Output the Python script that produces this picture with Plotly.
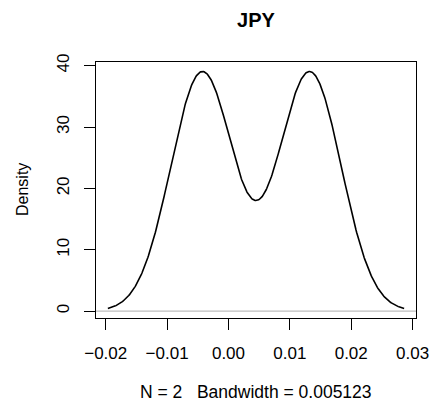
import numpy as np
import plotly.graph_objects as go

# Data: the two observations and the reported bandwidth
title = "JPY"
observations = [-0.00428, 0.01325]
bandwidth = 0.005123
x_ticks = [-0.02, -0.01, 0.00, 0.01, 0.02, 0.03]
x_tick_labels = ["−0.02", "−0.01", "0.00", "0.01", "0.02", "0.03"]
y_ticks = [0, 10, 20, 30, 40]
y_tick_labels = ["0", "10", "20", "30", "40"]

# Gaussian kernel density estimate (as R's density(), cut = 3, n = 512)
obs = np.array(observations)
grid = np.linspace(obs.min() - 3 * bandwidth, obs.max() + 3 * bandwidth, 512)
dens = np.zeros_like(grid)
for o in obs:
    dens += np.exp(-0.5 * ((grid - o) / bandwidth) ** 2) / (bandwidth * np.sqrt(2 * np.pi))
dens /= len(obs)

def r_range(v):
    lo, hi = float(np.min(v)), float(np.max(v))
    pad = 0.04 * (hi - lo)
    return [lo - pad, hi + pad]

xr = r_range(grid)
yr = r_range(dens)

FONT = "Liberation Sans, Arial, Helvetica, sans-serif"

fig = go.Figure()
fig.add_trace(go.Scatter(x=grid, y=dens, mode="lines",
                         line=dict(color="black", width=1.6),
                         hoverinfo="skip", showlegend=False))

# zero line in grey
fig.add_shape(type="line", xref="paper", yref="y", x0=0, x1=1, y0=0, y1=0,
              line=dict(color="#BEBEBE", width=1.2), layer="below")

fig.update_layout(
    width=432, height=407,
    margin=dict(l=96, r=16, t=62, b=89, autoexpand=False),
    paper_bgcolor="white", plot_bgcolor="white",
    font=dict(family=FONT, color="black", size=15),
    title=dict(text="<b>" + title + "</b>", x=0.5 * (96 + 416) / 432, xanchor="center",
               y=1 - 20 / 407, yanchor="middle", yref="container",
               font=dict(size=20, family=FONT, color="black")),
    xaxis=dict(range=xr, tickvals=x_ticks, ticktext=x_tick_labels, automargin=False,
               showgrid=False, zeroline=False, showline=True, mirror=True,
               linecolor="black", linewidth=1.3,
               ticks="outside", ticklen=11, tickwidth=1.3, tickcolor="black",
               tickfont=dict(size=17), ticklabelstandoff=8),
    yaxis=dict(range=yr, tickvals=y_ticks, ticktext=y_tick_labels, tickangle=-90,
               automargin=False,
               showgrid=False, zeroline=False, showline=True, mirror=True,
               linecolor="black", linewidth=1.3,
               ticks="outside", ticklen=11, tickwidth=1.3, tickcolor="black",
               tickfont=dict(size=17), ticklabelstandoff=8),
    annotations=[
        dict(text="N = 2   Bandwidth = 0.005123", xref="paper", yref="paper",
             x=0.5, y=0, yshift=-(392 - 318), xanchor="center", yanchor="middle",
             showarrow=False, font=dict(size=17.5)),
        dict(text="Density", xref="paper", yref="paper", textangle=-90,
             x=0, xshift=-(96 - 22), y=0.5, xanchor="center", yanchor="middle",
             showarrow=False, font=dict(size=16)),
    ],
)

fig.write_html("out.html", config={"displayModeBar": False},
               post_script="document.body.style.margin='0';document.body.style.overflow='hidden';")
